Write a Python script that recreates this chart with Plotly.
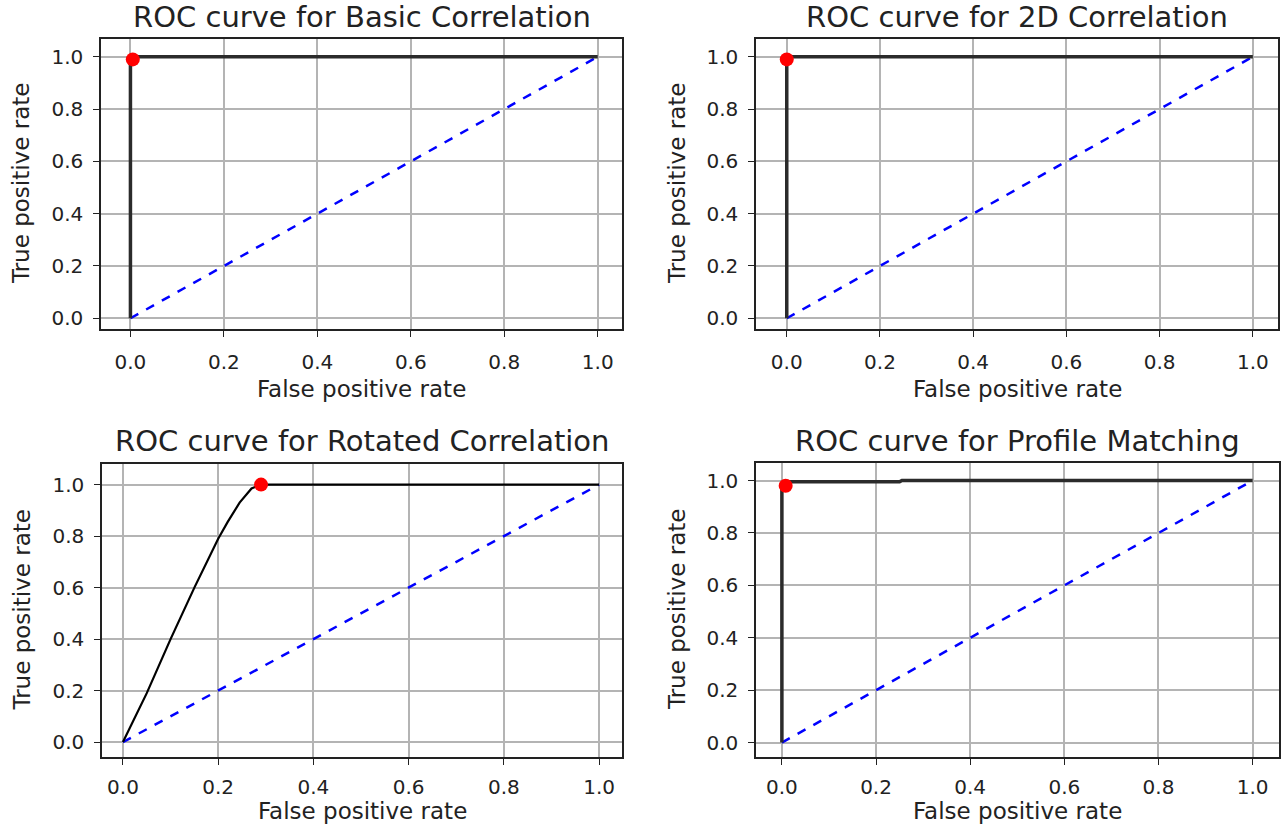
import plotly.graph_objects as go

W, H = 1283, 830

titles = ["ROC curve for Basic Correlation", "ROC curve for 2D Correlation",
          "ROC curve for Rotated Correlation", "ROC curve for Profile Matching"]
x_label = "False positive rate"
y_label = "True positive rate"

# ROC curves (false positive rate, true positive rate)
fpr_basic = [0.0, 0.0, 0.004, 1.0]
tpr_basic = [0.0, 0.99, 1.0, 1.0]
fpr_2d = [0.0, 0.0, 1.0]
tpr_2d = [0.0, 1.0, 1.0]
fpr_rot = [0.0, 0.05, 0.10, 0.15, 0.20, 0.22, 0.245, 0.27, 0.29, 1.0]
tpr_rot = [0.0, 0.19, 0.40, 0.60, 0.79, 0.855, 0.93, 0.985, 1.0, 1.0]
fpr_prof = [0.0, 0.0, 0.005, 0.01, 0.25, 0.255, 1.0]
tpr_prof = [0.0, 0.97, 0.98, 0.995, 0.995, 1.0, 1.0]

# selected operating points (red markers)
best_fpr = [0.005, 0.0, 0.29, 0.008]
best_tpr = [0.99, 0.99, 1.0, 0.98]

# chance diagonal
diag = [0.0, 1.0]

tick_vals = [0.0, 0.2, 0.4, 0.6, 0.8, 1.0]
tick_text = ["0.0", "0.2", "0.4", "0.6", "0.8", "1.0"]

curves = [(fpr_basic, tpr_basic), (fpr_2d, tpr_2d), (fpr_rot, tpr_rot), (fpr_prof, tpr_prof)]
curve_color = ["#2b2b2b", "#2b2b2b", "#000000", "#2b2b2b"]
curve_width = [3.5, 3.5, 2.2, 3.5]

# panel frames in pixels: (x0, x1, ytop, ybottom)
frames = [(101, 622, 39, 329), (756, 1278, 39, 329),
          (102, 622, 464, 757), (756, 1279, 463, 757)]
xranges = [[-0.063, 1.052], [-0.066, 1.054], [-0.044, 1.048], [-0.055, 1.056]]
yranges = [[-0.041, 1.068], [-0.041, 1.068], [-0.058, 1.08], [-0.055, 1.067]]
# label placements in pixels
title_y = [17, 17, 441, 441]
xlabel_y = [389, 389, 811, 811]
ylabel_x = [21, 677, 21, 677]
xtick_standoff = [8, 8, 5, 5]


def px(v):
    return v / W


def py(v):
    return 1 - v / H


font = "DejaVu Sans"
txt = "#222222"
fig = go.Figure()
annotations = []
for i in range(4):
    sfx = "" if i == 0 else str(i + 1)
    xa, ya = "x" + sfx, "y" + sfx
    fig.add_trace(go.Scatter(x=diag, y=diag, mode="lines", xaxis=xa, yaxis=ya,
                             line=dict(color="#0000ff", width=2.5, dash="dash"),
                             showlegend=False))
    fx, fy = curves[i]
    fig.add_trace(go.Scatter(x=fx, y=fy, mode="lines", xaxis=xa, yaxis=ya,
                             line=dict(color=curve_color[i], width=curve_width[i]),
                             showlegend=False))
    fig.add_trace(go.Scatter(x=[best_fpr[i]], y=[best_tpr[i]], mode="markers",
                             xaxis=xa, yaxis=ya,
                             marker=dict(color="#ff0000", size=14, line=dict(width=0)),
                             showlegend=False))
    x0, x1, yt, yb = frames[i]
    common = dict(showline=True, mirror=True, linecolor="#222222", linewidth=1.5,
                  ticks="outside", ticklen=6, tickwidth=1.3, tickcolor="#222222",
                  showgrid=True, gridcolor="#b4b4b4", gridwidth=1.5, zeroline=False,
                  tickvals=tick_vals, ticktext=tick_text, automargin=False,
                  tickfont=dict(family=font, size=20, color=txt))
    fig.update_layout(**{
        "xaxis" + sfx: dict(domain=[px(x0), min(px(x1), 1.0)], range=xranges[i], anchor=ya,
                            ticklabelstandoff=xtick_standoff[i], **common),
        "yaxis" + sfx: dict(domain=[py(yb), py(yt)], range=yranges[i], anchor=xa,
                            ticklabelstandoff=6, **common),
    })
    cx = px((x0 + x1) / 2)
    annotations.append(dict(text=titles[i], xref="paper", yref="paper",
                            x=cx, y=py(title_y[i]),
                            xanchor="center", yanchor="middle", showarrow=False,
                            font=dict(family=font, size=29, color=txt)))
    annotations.append(dict(text=x_label, xref="paper", yref="paper",
                            x=cx, y=py(xlabel_y[i]),
                            xanchor="center", yanchor="middle", showarrow=False,
                            font=dict(family=font, size=23, color=txt)))
    annotations.append(dict(text=y_label, xref="paper", yref="paper",
                            x=px(ylabel_x[i]), y=py((yt + yb) / 2),
                            xanchor="center", yanchor="middle", showarrow=False,
                            textangle=-90,
                            font=dict(family=font, size=23, color=txt)))

fig.update_layout(width=W, height=H, margin=dict(l=0, r=0, t=0, b=0),
                  paper_bgcolor="white", plot_bgcolor="white",
                  annotations=annotations)
fig.write_html("out.html", config={"displayModeBar": False},
               post_script="document.body.style.margin='0';document.body.style.overflow='hidden';")
